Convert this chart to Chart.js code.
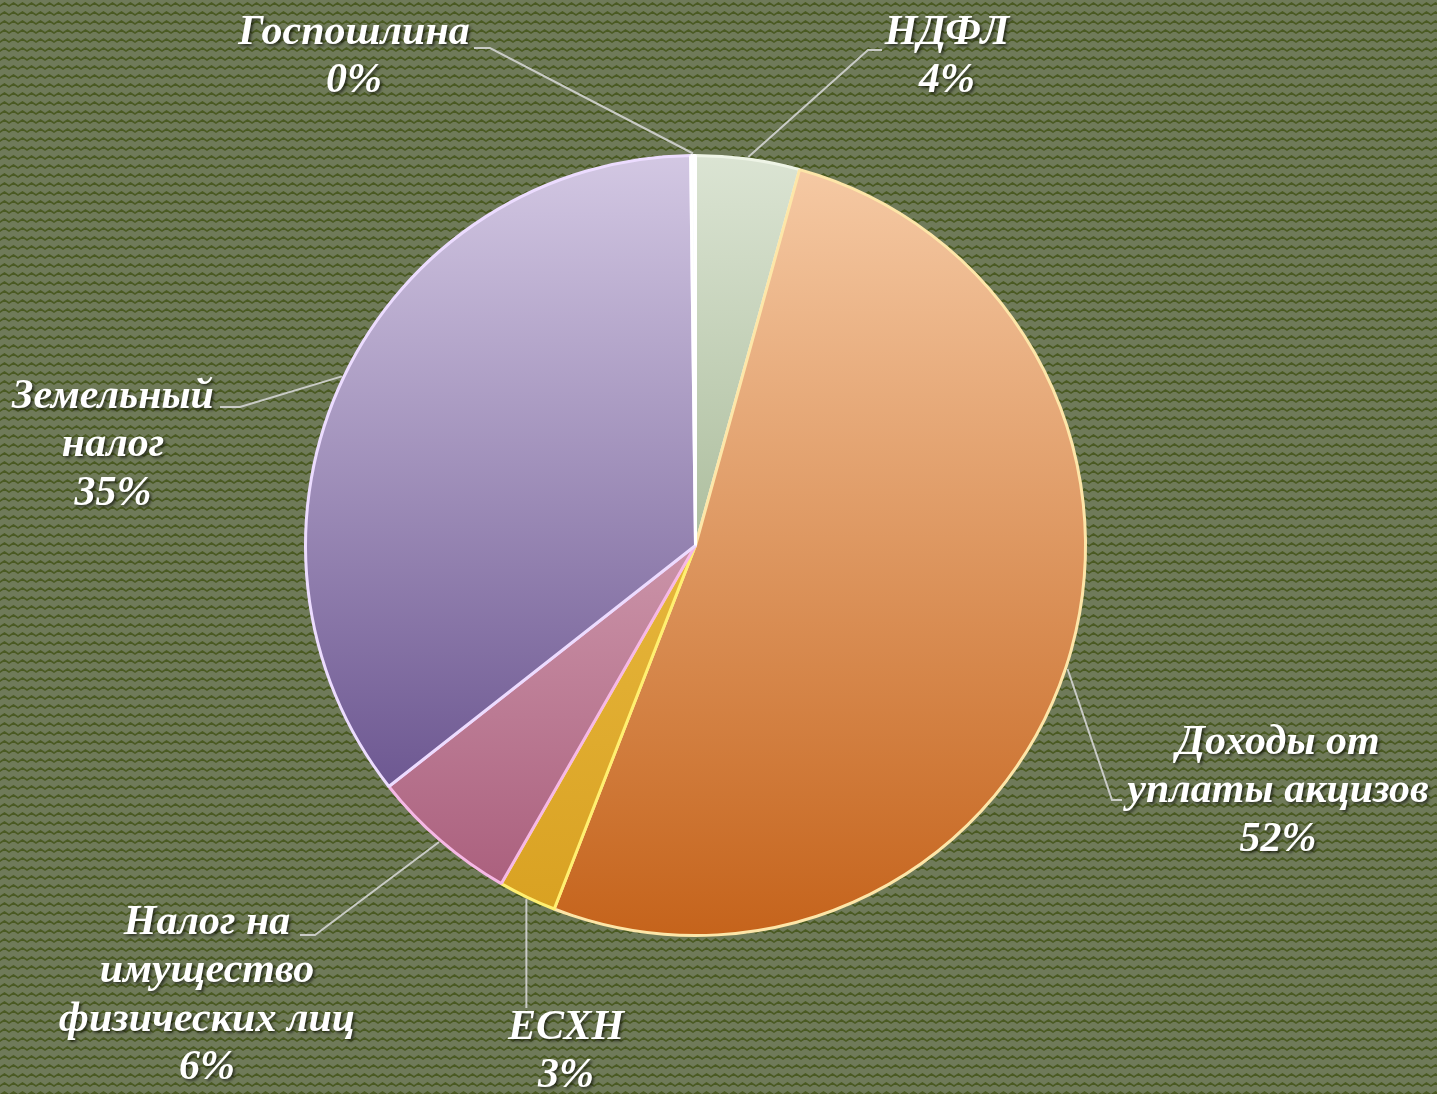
<!DOCTYPE html>
<html>
<head>
<meta charset="utf-8">
<script src="https://cdn.jsdelivr.net/npm/chart.js@4.4.1/dist/chart.umd.min.js"></script>
<style>
  html, body { margin: 0; padding: 0; background: #667050; }
  #wrap { width: 1437px; height: 1094px; }
</style>
</head>
<body>
<div id="wrap"><canvas id="myChart" width="1437" height="1094"></canvas></div>
<script>
// data (clockwise from 12 o'clock)
const categories = ['НДФЛ', 'Доходы от уплаты акцизов', 'ЕСХН', 'Налог на имущество физических лиц', 'Земельный налог', 'Госпошлина'];
const shares = [4.3, 51.6, 2.4, 6.1, 35.4, 0.2];
const percentLabels = ['4%', '52%', '3%', '6%', '35%', '0%'];
const labelLines = [
    ['НДФЛ'],
    ['Доходы от', 'уплаты акцизов'],
    ['ЕСХН'],
    ['Налог на', 'имущество', 'физических лиц'],
    ['Земельный', 'налог'],
    ['Госпошлина']
];

// top / bottom colours of each slice gradient
const topColors = ['#dbe4d3', '#f6cba6', '#f4cc58', '#f0d0da', '#d3c8e3', '#ffffff'];
const bottomColors = ['#7f9869', '#c5631b', '#d8a020', '#a65877', '#553d7e', '#dbe8f8'];
const edgeColors = ['#eef4e6', '#fde6a8', '#fff070', '#f6b8e6', '#ecdcff', '#ffffff'];

// label placement: text centre, leader elbow and end
const labelLayout = [
    {x: 947, y: 33, elbow: [868, 50], end: [882, 50]},
    {x: 1278, y: 743, elbow: [1112, 800], end: [1122, 800]},
    {x: 566, y: 1028, elbow: null, end: [0, 1008]},
    {x: 207, y: 923, elbow: [315, 935], end: [300, 935]},
    {x: 113, y: 397, elbow: [240, 407], end: [220, 407]},
    {x: 354, y: 33, elbow: [490, 48], end: [474, 48]}
];
const lineHeight = 48.5;

function makePattern(ctx) {
    let tile = document.createElement('canvas');
    tile.width = 9;
    tile.height = 9;
    let t = tile.getContext('2d');
    t.fillStyle = '#6f7a59';
    t.fillRect(0, 0, 9, 9);
    t.strokeStyle = '#4a5a22';
    t.lineWidth = 1.6;
    t.beginPath();
    t.moveTo(-4.5, 3);
    t.lineTo(0, 6);
    t.lineTo(4.5, 3);
    t.lineTo(9, 6);
    t.lineTo(13.5, 3);
    t.stroke();
    return ctx.createPattern(tile, 'repeat');
}

const backgroundPlugin = {
    id: 'zigzagBackground',
    beforeDraw(chart) {
        let ctx = chart.ctx;
        ctx.save();
        ctx.fillStyle = makePattern(ctx);
        ctx.fillRect(0, 0, chart.width, chart.height);
        ctx.restore();
    }
};

const labelPlugin = {
    id: 'sliceLabels',
    afterDraw(chart) {
        let ctx = chart.ctx;
        let arcs = chart.getDatasetMeta(0).data;
        ctx.save();
        arcs.forEach((arc, i) => {
            let lay = labelLayout[i];
            let mid = (arc.startAngle + arc.endAngle) / 2;
            let sx = arc.x + Math.cos(mid) * (arc.outerRadius + 2);
            let sy = arc.y + Math.sin(mid) * (arc.outerRadius + 2);
            // leader line
            ctx.strokeStyle = '#c9cbc6';
            ctx.lineWidth = 2;
            ctx.beginPath();
            ctx.moveTo(sx, sy);
            if (lay.elbow) {
                ctx.lineTo(lay.elbow[0], lay.elbow[1]);
                ctx.lineTo(lay.end[0], lay.end[1]);
            } else {
                ctx.lineTo(sx, lay.end[1]);
            }
            ctx.stroke();

            // text
            let lines = labelLines[i].concat([percentLabels[i]]);
            ctx.font = 'italic bold 42px "Liberation Serif", "Times New Roman", serif';
            ctx.textAlign = 'center';
            ctx.textBaseline = 'middle';
            ctx.fillStyle = '#ffffff';
            ctx.shadowColor = 'rgba(0,0,0,0.6)';
            ctx.shadowOffsetX = 2;
            ctx.shadowOffsetY = 2;
            ctx.shadowBlur = 3;
            lines.forEach((ln, k) => {
                ctx.fillText(ln, lay.x, lay.y + k * lineHeight);
            });
            ctx.shadowColor = 'transparent';
        });
        ctx.restore();
    }
};

function sliceGradient(context) {
    let chart = context.chart;
    let i = context.dataIndex;
    let area = chart.chartArea;
    if (!area) return topColors[i];
    let g = chart.ctx.createLinearGradient(0, area.top, 0, area.bottom);
    g.addColorStop(0, topColors[i]);
    g.addColorStop(1, bottomColors[i]);
    return g;
}

var ctx = document.getElementById('myChart').getContext('2d');
var myPieChart = new Chart(ctx, {
    type: 'pie',
    data: {
        labels: categories,
        datasets: [{
            label: 'Доходы',
            data: shares,
            backgroundColor: sliceGradient,
            borderColor: edgeColors,
            borderWidth: 3
        }]
    },
    options: {
        responsive: false,
        animation: false,
        layout: {
            padding: {left: 304, right: 350, top: 154, bottom: 157}
        },
        plugins: {
            legend: {display: false},
            tooltip: {enabled: false}
        }
    },
    plugins: [backgroundPlugin, labelPlugin]
});
</script>
</body>
</html>
